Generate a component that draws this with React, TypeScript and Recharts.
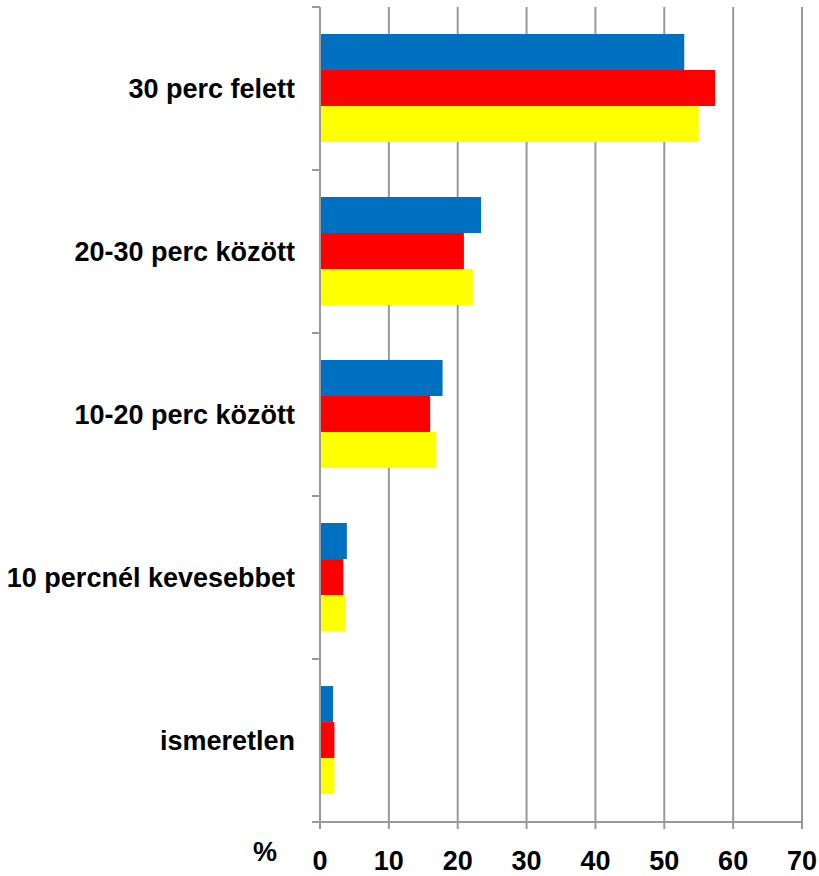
import React from 'react';
import { BarChart, Bar, XAxis, YAxis, CartesianGrid } from 'recharts';

const categories = ['30 perc felett', '20-30 perc között', '10-20 perc között', '10 percnél kevesebbet', 'ismeretlen'];
const blueValues = [52.9, 23.4, 17.8, 3.9, 1.9];
const redValues = [57.4, 20.9, 16.0, 3.4, 2.1];
const yellowValues = [55.0, 22.2, 16.9, 3.7, 2.1];
const xTicks = [0, 10, 20, 30, 40, 50, 60, 70];

const data = categories.map((name, i) => ({
  name,
  blue: blueValues[i],
  red: redValues[i],
  yellow: yellowValues[i],
}));

const font = '"Liberation Sans", Arial, sans-serif';
const axisGray = '#999999';

const CategoryTick = (props: any) => {
  const { x, y, payload, index } = props;
  const half = payload?.offset ?? 81.5;
  const axisX = x + 25;
  return (
    <g>
      <line x1={axisX - 8} x2={axisX} y1={y - half} y2={y - half} stroke={axisGray} strokeWidth={2} />
      {index === categories.length - 1 && (
        <line x1={axisX - 8} x2={axisX} y1={y + half} y2={y + half} stroke={axisGray} strokeWidth={2} />
      )}
      <text x={x} y={y} dy="0.355em" textAnchor="end" fontFamily={font} fontSize={27} fontWeight="bold" fill="#000">
        {payload.value}
      </text>
    </g>
  );
};

const PercentLabel = (props: any) => {
  const { viewBox } = props;
  return (
    <text x={viewBox.x - 55} y={viewBox.y + 39} textAnchor="middle" fontFamily={font} fontSize={27} fontWeight="bold" fill="#000">
      %
    </text>
  );
};

export default function App() {
  return (
    <div style={{ position: 'absolute', left: 0, top: 0, background: '#fff' }}>
      <BarChart
        width={819}
        height={876}
        data={data}
        layout="vertical"
        margin={{ top: 7, right: 17, left: 0, bottom: 0 }}
        barCategoryGap="16.6%"
        barGap={0}
      >
        <CartesianGrid horizontal={false} stroke={axisGray} strokeWidth={2} />
        <XAxis
          type="number"
          domain={[0, 70]}
          ticks={xTicks}
          interval={0}
          height={54}
          tickSize={7}
          tickMargin={22}
          axisLine={{ stroke: axisGray, strokeWidth: 2 }}
          tickLine={{ stroke: axisGray, strokeWidth: 2 }}
          tick={{ fill: '#000', fontSize: 27, fontWeight: 'bold', fontFamily: font }}
          label={<PercentLabel />}
        />
        <YAxis
          type="category"
          dataKey="name"
          width={320}
          tickSize={0}
          tickMargin={25}
          tickLine={false}
          axisLine={{ stroke: axisGray, strokeWidth: 2 }}
          tick={<CategoryTick />}
          interval={0}
        />
        <Bar dataKey="blue" fill="#0070C0" isAnimationActive={false} />
        <Bar dataKey="red" fill="#FF0000" isAnimationActive={false} />
        <Bar dataKey="yellow" fill="#FFFF00" isAnimationActive={false} />
      </BarChart>
    </div>
  );
}
